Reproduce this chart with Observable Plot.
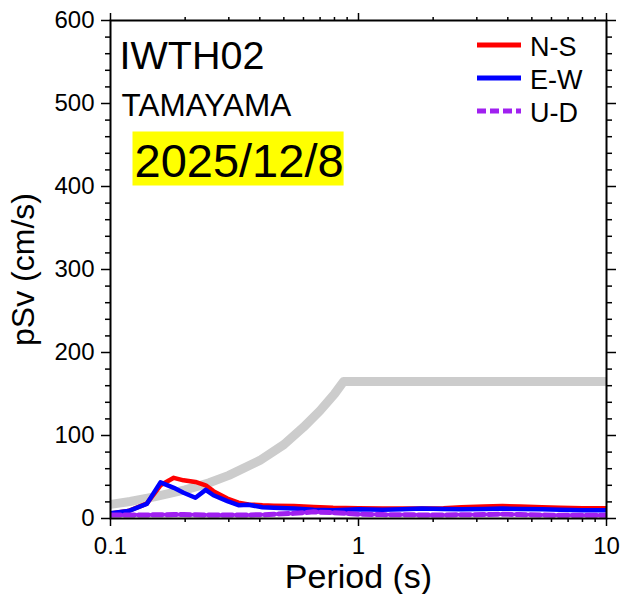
<!DOCTYPE html>
<html>
<head>
<meta charset="utf-8">
<script src="https://cdn.jsdelivr.net/npm/d3@7"></script>
<script src="https://cdn.jsdelivr.net/npm/@observablehq/plot@0.6"></script>
<style>
  html, body { margin: 0; padding: 0; background: white; }
  #chart { width: 626px; height: 594px; }
</style>
</head>
<body>
<div id="chart"></div>
<script>
// ---- Data ----
const stationCode = "IWTH02";
const stationName = "TAMAYAMA";
const eventDate = "2025/12/8";
const xLabel = "Period (s)";
const yLabel = "pSv (cm/s)";
const seriesNames = ["N-S", "E-W", "U-D"];
const seriesColors = ["#ff0000", "#0000ff", "#a020f0"];

const periods = [0.1, 0.118, 0.14, 0.159, 0.18, 0.197, 0.22, 0.242, 0.26, 0.296, 0.328, 0.36, 0.41, 0.455, 0.55, 0.66, 0.79, 1.0, 1.25, 1.5, 1.8, 2.2, 2.6, 3.2, 3.8, 4.5, 5.5, 6.5, 8, 10];
const ns = [6, 9, 18, 40, 49, 46, 44, 40, 33, 24, 19, 17, 16, 15.5, 15, 14, 13, 12.5, 12, 12, 12, 12.5, 13.5, 14.5, 15, 14.5, 13.5, 13, 12.5, 12.5];
const ew = [6.4, 9, 17.5, 43.5, 37, 31, 25, 34.5, 28, 21, 16, 16.5, 13.5, 13, 12, 10.5, 10, 11, 10.5, 11, 12, 11.5, 11, 11.5, 12, 11.5, 11, 10.5, 10, 9.8];
const ud = [4.2, 4.2, 4.3, 4.5, 4.7, 4.7, 4.5, 4.3, 4.2, 4.2, 4.3, 4.3, 4.5, 5.2, 6.2, 8, 7, 5.2, 4.7, 4.5, 4.3, 4.3, 4.5, 4.7, 5.2, 4.7, 4.2, 4, 3.8, 3.8];

// grey reference curve
const refPeriods = [0.1, 0.12, 0.15, 0.2, 0.25, 0.3, 0.4, 0.5, 0.6, 0.7, 0.8, 0.87, 1, 2, 5, 10];
const refVel = [17, 20.5, 26, 34.5, 43, 52, 70, 89, 110, 130, 150, 165, 165, 165, 165, 165];

const xMajor = [0.1, 1, 10];
const xMinor = [0.2, 0.3, 0.4, 0.5, 0.6, 0.7, 0.8, 0.9, 2, 3, 4, 5, 6, 7, 8, 9];
const yMajor = [0, 100, 200, 300, 400, 500, 600];
const yMinor = [20, 40, 60, 80, 120, 140, 160, 180, 220, 240, 260, 280, 320, 340, 360, 380, 420, 440, 460, 480, 520, 540, 560, 580];

// ---- tables ----
const toRows = (vals) => periods.map((T, i) => ({T, v: vals[i]}));
const refRows = refPeriods.map((T, i) => ({T, v: refVel[i]}));
const seriesData = [ns, ew, ud].map(toRows);

const font = "'Liberation Sans', Arial, Helvetica, sans-serif";
const blank = () => "";

const svg = Plot.plot({
  width: 626,
  height: 594,
  marginLeft: 110,
  marginRight: 20,
  marginTop: 20,
  marginBottom: 76,
  style: {fontFamily: font, background: "white", color: "black", overflow: "visible"},
  x: {type: "log", domain: [0.1, 10]},
  y: {domain: [0, 600]},
  marks: [
    Plot.line(refRows, {x: "T", y: "v", stroke: "#cccccc", strokeWidth: 9, clip: true}),
    Plot.line(seriesData[0], {x: "T", y: "v", stroke: seriesColors[0], strokeWidth: 4.5, clip: true}),
    Plot.line(seriesData[1], {x: "T", y: "v", stroke: seriesColors[1], strokeWidth: 4.5, clip: true}),
    Plot.line(seriesData[2], {x: "T", y: "v", stroke: seriesColors[2], strokeWidth: 5, strokeDasharray: "10,4", clip: true}),
    Plot.frame({stroke: "black", strokeWidth: 2}),
    // bottom axis
    Plot.axisX({anchor: "bottom", ticks: xMajor, tickSize: 8, tickPadding: 10, tickFormat: d => String(d), fontSize: 24, strokeWidth: 1.5, label: null}),
    Plot.axisX({anchor: "bottom", ticks: xMinor, tickSize: 4, tickFormat: blank, strokeWidth: 1.5, label: null}),
    // top axis (ticks only)
    Plot.axisX({anchor: "top", ticks: xMajor, tickSize: 8, tickFormat: blank, strokeWidth: 1.5, label: null}),
    Plot.axisX({anchor: "top", ticks: xMinor, tickSize: 4, tickFormat: blank, strokeWidth: 1.5, label: null}),
    // left axis
    Plot.axisY({anchor: "left", ticks: yMajor, tickSize: 9, tickPadding: 7, tickFormat: d => String(d), fontSize: 24, strokeWidth: 1.5, label: null}),
    Plot.axisY({anchor: "left", ticks: yMinor, tickSize: 5, tickFormat: blank, strokeWidth: 1.5, label: null}),
    // right axis (ticks only)
    Plot.axisY({anchor: "right", ticks: yMajor, tickSize: 9, tickFormat: blank, strokeWidth: 1.5, label: null}),
    Plot.axisY({anchor: "right", ticks: yMinor, tickSize: 5, tickFormat: blank, strokeWidth: 1.5, label: null}),
    // axis titles
    Plot.text([xLabel], {frameAnchor: "bottom", text: d => d, dy: 69, lineAnchor: "bottom", fontSize: 34, fill: "black"}),
    Plot.text([yLabel], {frameAnchor: "left", text: d => d, dx: -87, rotate: -90, textAnchor: "middle", lineAnchor: "middle", fontSize: 32, fill: "black"}),
    // annotations
    Plot.text([stationCode], {frameAnchor: "top-left", text: d => d, dx: 9, dy: 48, textAnchor: "start", lineAnchor: "bottom", fontSize: 39.5, fill: "black"}),
    Plot.text([stationName], {frameAnchor: "top-left", text: d => d, dx: 11, dy: 95, textAnchor: "start", lineAnchor: "bottom", fontSize: 31.5, fill: "black"}),
    Plot.text([eventDate], {frameAnchor: "top-left", text: d => d, dx: 24, dy: 156, textAnchor: "start", lineAnchor: "bottom", fontSize: 47, fill: "black"})
  ]
});

document.getElementById("chart").appendChild(svg);

// yellow highlight behind the date
const sel = d3.select(svg);
const dateText = Array.from(svg.querySelectorAll("text")).find(t => t.textContent === eventDate);
if (dateText) {
  const bb = dateText.getBBox();
  const g = dateText.closest("g[aria-label]") || dateText.parentNode;
  const m = svg.getCTM().inverse().multiply(dateText.getCTM());
  const pt = svg.createSVGPoint();
  pt.x = bb.x; pt.y = bb.y;
  const p0 = pt.matrixTransform(m);
  const rect = document.createElementNS("http://www.w3.org/2000/svg", "rect");
  rect.setAttribute("x", p0.x - 2);
  rect.setAttribute("y", p0.y - 2);
  rect.setAttribute("width", bb.width + 2);
  rect.setAttribute("height", bb.height + 1);
  rect.setAttribute("fill", "#ffff00");
  g.parentNode.insertBefore(rect, g);
}

// legend
const legendX1 = 477, legendX2 = 521, legendTextX = 530;
const legendYs = [45, 78, 111];
const leg = sel.append("g").attr("font-family", font).attr("text-anchor", "start");
seriesNames.forEach((name, i) => {
  leg.append("line")
    .attr("x1", legendX1).attr("x2", legendX2)
    .attr("y1", legendYs[i]).attr("y2", legendYs[i])
    .attr("stroke", seriesColors[i]).attr("stroke-width", 5)
    .attr("stroke-dasharray", i === 2 ? "9,4" : null);
  leg.append("text")
    .attr("x", legendTextX).attr("y", legendYs[i] + 11)
    .attr("font-size", 27).attr("fill", "black")
    .text(name);
});
</script>
</body>
</html>
